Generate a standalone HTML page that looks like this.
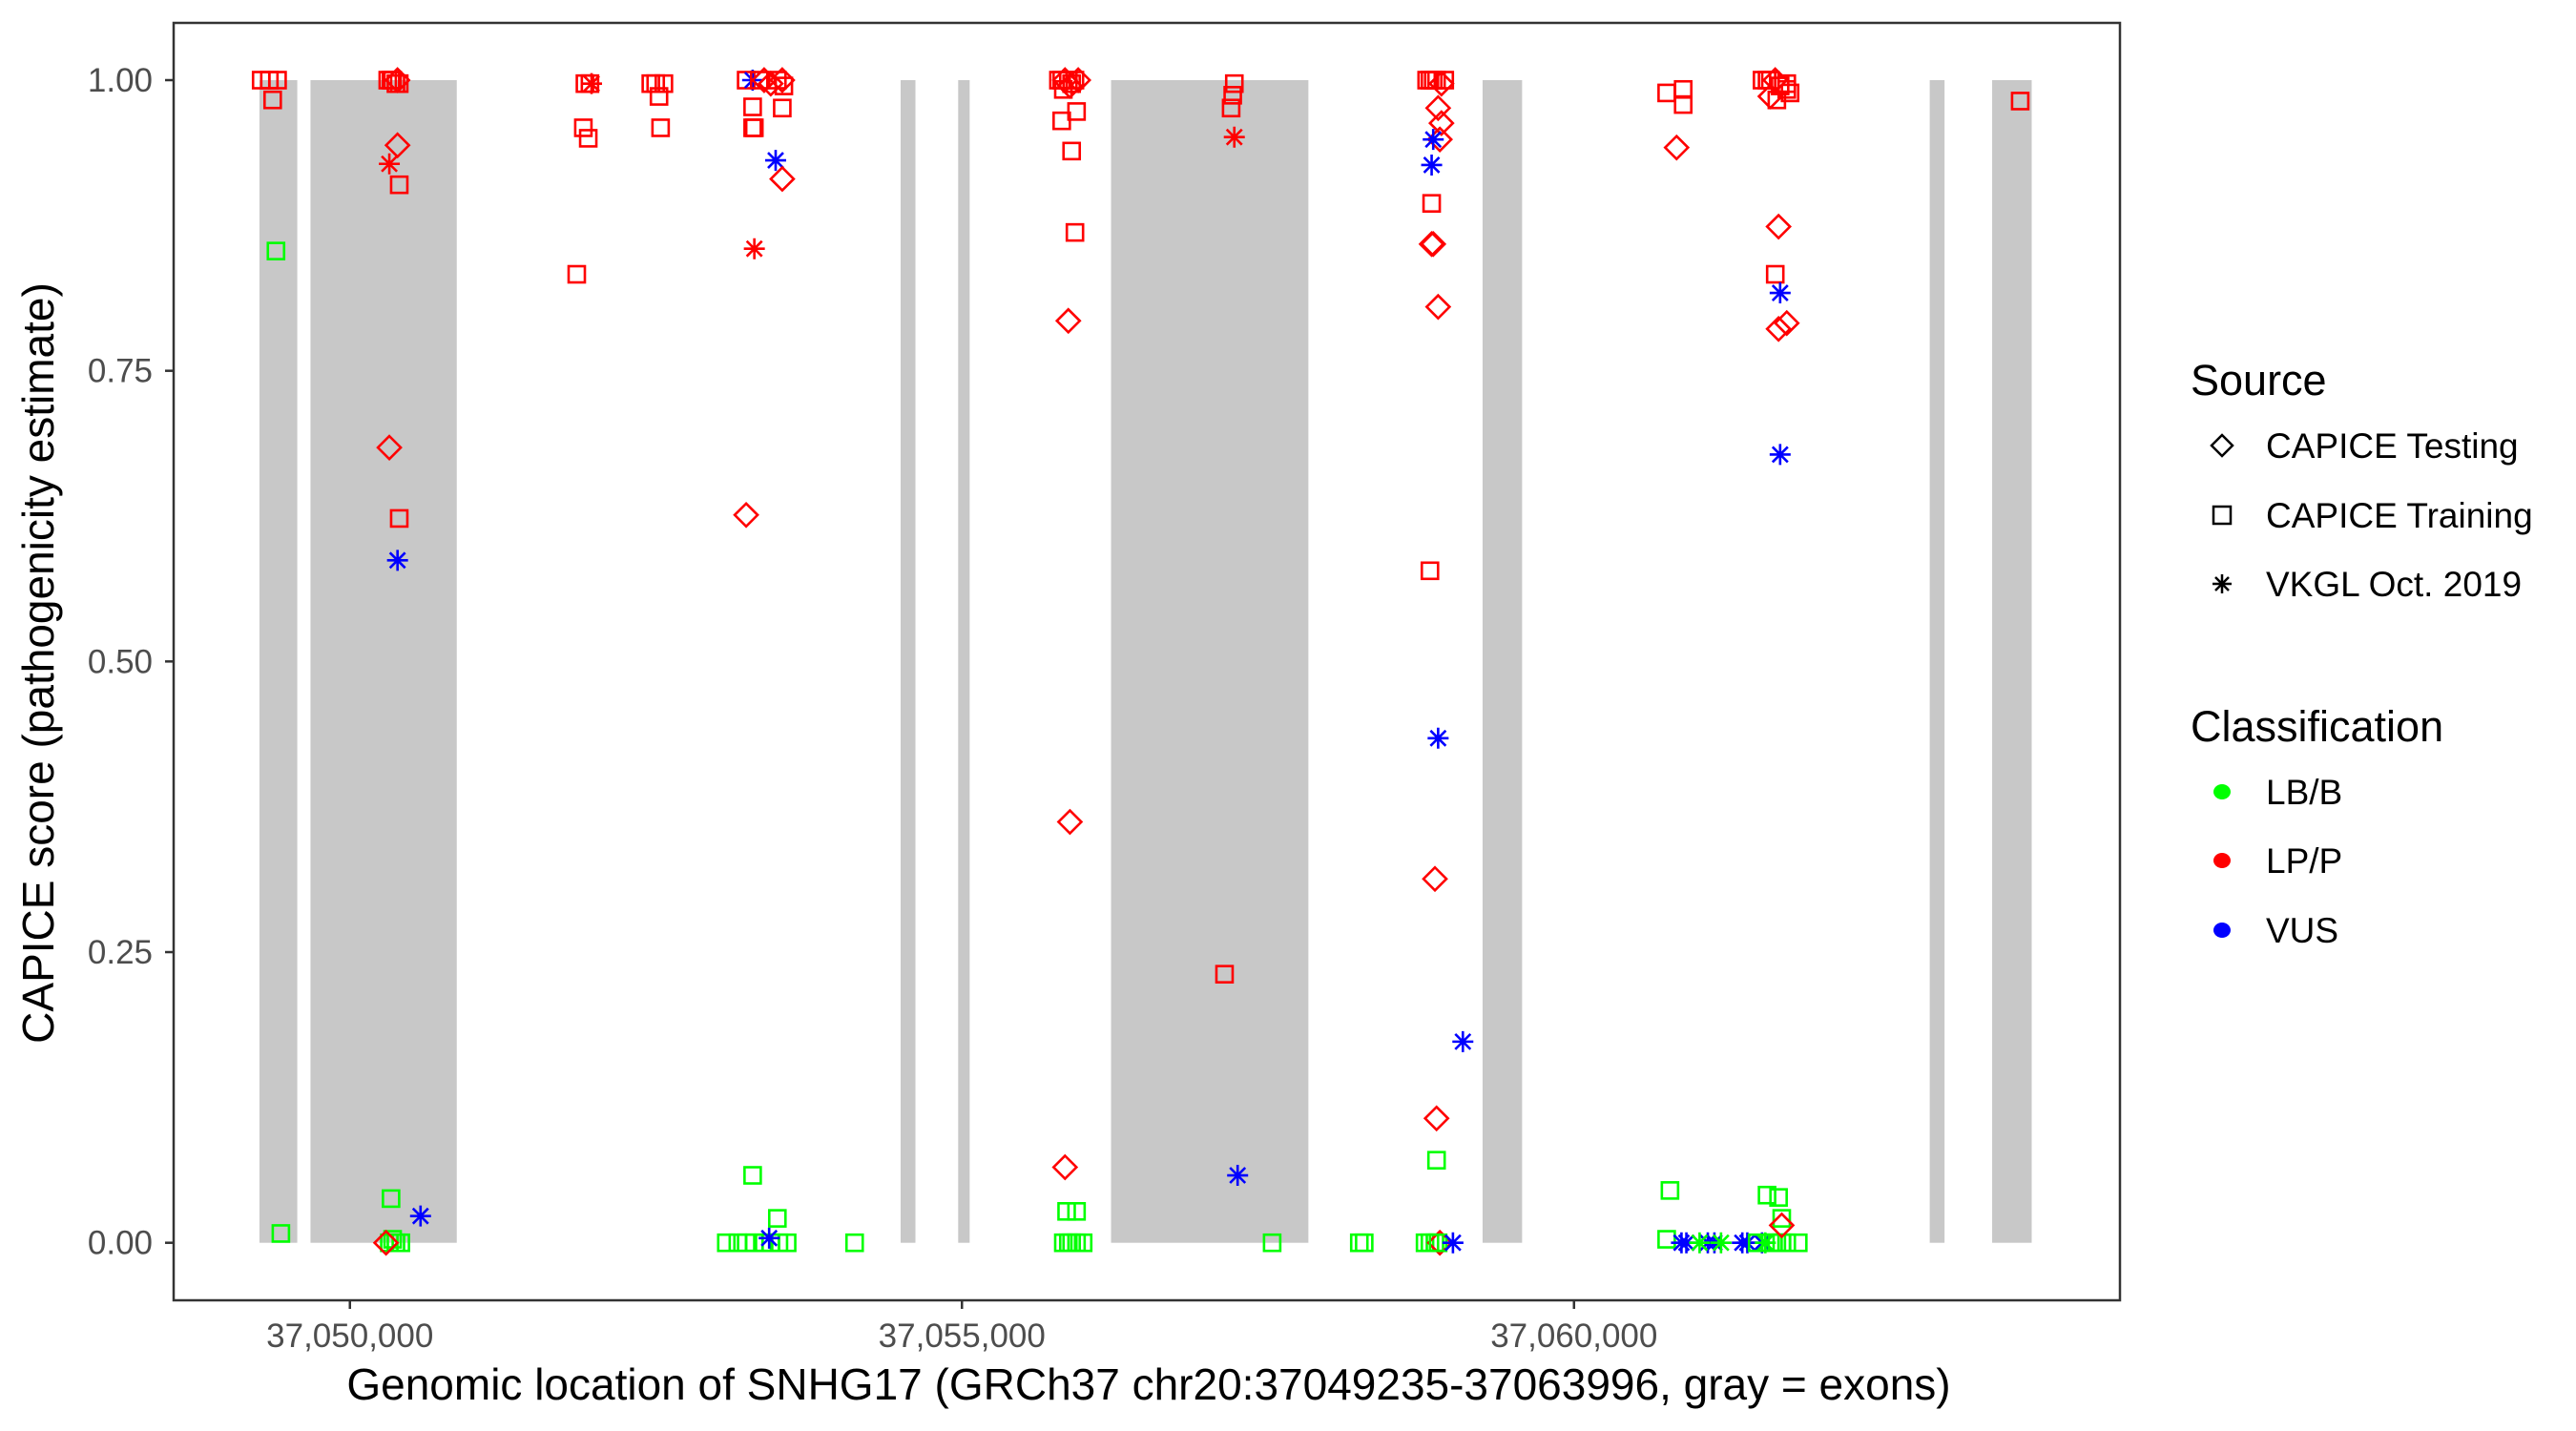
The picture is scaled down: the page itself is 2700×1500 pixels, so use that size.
<!DOCTYPE html>
<html><head><meta charset="utf-8"><style>
html,body{margin:0;padding:0;background:#fff;}
svg{display:block;font-family:"Liberation Sans",Arial,sans-serif;}
</style></head><body>
<svg id="chart" width="2700" height="1500" viewBox="0 0 2700 1500" xmlns="http://www.w3.org/2000/svg">
<rect x="0" y="0" width="2700" height="1500" fill="#fff"/>
<g id="exons"></g>
<g id="points"></g>
<rect x="182" y="24" width="2040" height="1339" fill="none" stroke="#333" stroke-width="2.5"/>
<g id="yaxis"></g>
<g id="xaxis"></g>
<text x="1204" y="1467" font-size="46" text-anchor="middle" fill="#000">Genomic location of SNHG17 (GRCh37 chr20:37049235-37063996, gray = exons)</text>
<text transform="translate(56,695) rotate(-90)" font-size="46" text-anchor="middle" fill="#000">CAPICE score (pathogenicity estimate)</text>
<g id="legend">
<text x="2296" y="414" font-size="45" fill="#000">Source</text>
<g>
<path d="M2329 456 L2340 467 L2329 478 L2318 467 Z" fill="none" stroke="#000" stroke-width="2.5"/>
<text x="2375" y="480" font-size="37" fill="#000">CAPICE Testing</text></g>
<g>
<rect x="2320" y="531" width="18" height="18" fill="none" stroke="#000" stroke-width="2.5"/>
<text x="2375" y="553" font-size="37" fill="#000">CAPICE Training</text></g>
<g>
<path d="M2319 612 L2339 612 M2329 602 L2329 622 M2322 605 L2336 619 M2336 605 L2322 619" stroke="#000" stroke-width="2.5"/>
<text x="2375" y="625" font-size="37" fill="#000">VKGL Oct. 2019</text></g>
<text x="2296" y="777" font-size="45" fill="#000">Classification</text>
<g><ellipse cx="2329" cy="830" rx="9" ry="8" fill="#00ff00"/><text x="2375" y="843" font-size="37" fill="#000">LB/B</text></g>
<g><ellipse cx="2329" cy="902" rx="9" ry="8" fill="#ff0000"/><text x="2375" y="915" font-size="37" fill="#000">LP/P</text></g>
<g><ellipse cx="2329" cy="975" rx="9" ry="8" fill="#0000ff"/><text x="2375" y="988" font-size="37" fill="#000">VUS</text></g>
</g>
</svg>
<script>
const exonStarts=[37049261,37049678,37054499,37054969,37056218,37059253,37062906,37063416];
const exonEnds=[37049570,37050873,37054620,37055063,37057830,37059576,37063027,37063739];
const xTicks=[37050000,37055000,37060000];
const xTickLabels=["37,050,000","37,055,000","37,060,000"];
const yTicks=[0,0.25,0.5,0.75,1];
const yTickLabels=["0.00","0.25","0.50","0.75","1.00"];
// T=CAPICE Testing, R=CAPICE Training, V=VKGL ; B=LB/B, P=LP/P, U=VUS
const positions=[
37049275,37049342,37049409,37049369,37049396,37049436,
37050309,37050336,37050349,37050376,37050403,37050389,37050389,37050322,37050403,37050322,37050403,37050389,37050577,37050336,37050322,37050349,37050376,37050416,37050295,
37051920,37051961,37051974,37051907,37051947,37051853,
37052458,37052498,37052565,37052525,37052538,
37053237,37053290,37053344,37053384,37053438,37053492,37053532,37053545,37053290,37053290,37053304,37053532,37053478,37053532,37053304,37053237,37053290,37053492,37053075,37053169,37053237,37053304,37053384,37053438,37053505,37053572,37053425,37054123,
37055788,37055815,37055842,37055869,37055896,37055923,37055950,37055828,37055882,37055815,37055936,37055896,37055923,37055869,37055882,37055842,37055855,37055936,37055828,37055869,37055896,37055936,37055990,
37057225,37057212,37057199,37057225,37057145,37057252,37057534,
37058796,37058823,37058850,37058877,37058917,37058944,37058890,37058917,37058904,37058837,37058837,37058850,37058890,37058837,37058850,37058823,37058890,37058864,37059092,37058877,37058877,37058246,37058286,37058783,37058823,37058864,37058904,37058890,37059011,
37060757,37060892,37060892,37060838,37060784,37060757,
37060878,37060918,37061093,37061147,37061375,37061416,37061536,37061026,37061201,37061563,37061496,37061604,37061630,37061657,37061697,37061738,37061832,37061577,37061671,37061697,37061697,
37061536,37061577,37061604,37061644,37061684,37061738,37061765,37061604,37061657,37061738,37061671,37061644,37061684,37061738,37061671,37061684,
37063645];
const scores=[
1,1,1,0.983,0.853,0.008,
1,1,1,0.997,0.997,1,0.944,0.928,0.910,0.684,0.623,0.587,0.023,0.038,0,0.003,0,0,0,
0.997,0.997,0.997,0.959,0.950,0.833,
0.997,0.997,0.997,0.986,0.959,
1,1,1,1,0.997,1,1,0.995,0.977,0.959,0.959,0.976,0.931,0.915,0.855,0.626,0.058,0.021,0,0,0,0,0,0,0,0,0.004,0,
1,1,1,1,0.997,1,1,0.992,0.995,0.965,0.973,0.939,0.869,0.793,0.362,0.065,0.027,0.027,0,0,0,0,0,
0.997,0.987,0.976,0.951,0.231,0.058,0,
1,1,1,1,0.997,1,0.976,0.963,0.949,0.894,0.859,0.859,0.805,0.927,0.949,0.578,0.434,0.313,0.173,0.107,0.071,0,0,0,0,0,0,0,0,
0.989,0.992,0.979,0.942,0.045,0.003,
0,0,0,0,0,0,0,0,0,0,0,0,0,0,0,0,0,0.041,0.039,0.021,0.015,
1,1,1,1,0.995,0.992,0.989,0.986,0.983,0.997,0.874,0.833,0.817,0.791,0.786,0.678,
0.982];
const sources=[
"R","R","R","R","R","R",
"R","R","R","R","R","T","T","V","R","T","R","V","V","R","R","R","R","R","T",
"R","R","V","R","R","R",
"R","R","R","R","R",
"R","V","R","T","T","R","T","R","R","R","R","R","V","T","V","T","R","R","R","R","R","R","R","R","R","R","V","R",
"R","R","T","R","R","R","T","R","T","R","R","R","R","T","T","T","R","R","R","R","R","R","R",
"R","R","R","V","R","V","R",
"R","R","R","R","T","R","T","T","T","R","T","T","T","V","V","R","V","T","V","T","R","R","R","R","R","R","T","R","V",
"R","R","R","T","R","R",
"V","V","V","V","V","V","V","V","V","V","R","R","R","R","R","R","R","R","R","R","T",
"R","R","R","T","R","R","R","T","R","R","T","R","V","T","T","V",
"R"];
const classes=[
"P","P","P","P","B","B",
"P","P","P","P","P","P","P","P","P","P","P","U","U","B","B","B","B","B","P",
"P","P","P","P","P","P",
"P","P","P","P","P",
"P","U","P","P","P","P","P","P","P","P","P","P","U","P","P","P","B","B","B","B","B","B","B","B","B","B","U","B",
"P","P","P","P","P","P","P","P","P","P","P","P","P","P","P","P","B","B","B","B","B","B","B",
"P","P","P","P","P","U","B",
"P","P","P","P","P","P","P","P","P","P","P","P","P","U","U","P","U","P","U","P","B","B","B","B","B","B","P","B","U",
"P","P","P","P","B","B",
"U","U","U","U","U","U","U","B","B","B","B","B","B","B","B","B","B","B","B","B","P",
"P","P","P","P","P","P","P","P","P","P","P","P","U","P","P","U",
"P"];

const NS="http://www.w3.org/2000/svg";
const PL=182,PR=2222,PT=24,PB=1363;
const XMIN=37048560,XMAX=37064460;
function xs(v){return PL+(v-XMIN)/(XMAX-XMIN)*(PR-PL);}
function ys(v){return 1302.7-v*(1302.7-84);}
function mk(tag,attrs,parent){const e=document.createElementNS(NS,tag);for(const k in attrs)e.setAttribute(k,attrs[k]);parent.appendChild(e);return e;}
const colorOf={B:"#00ff00",P:"#ff0000",U:"#0000ff"};

const gEx=document.getElementById("exons");
for(let i=0;i<exonStarts.length;i++){
  const r=mk("rect",{x:xs(exonStarts[i]),y:ys(1),width:xs(exonEnds[i])-xs(exonStarts[i]),height:ys(0)-ys(1),fill:"#c8c8c8"},gEx);
  
  
}
const gy=document.getElementById("yaxis");
yTicks.forEach((t,i)=>{
  const l=mk("line",{x1:PL-9,x2:PL,y1:ys(t),y2:ys(t),stroke:"#333","stroke-width":2.5},gy);
  
  
  const tx=mk("text",{x:PL-22,y:ys(t)+12,"font-size":35,"text-anchor":"end",fill:"#4d4d4d"},gy);
  tx.textContent=yTickLabels[i];
  
  
});
const gx=document.getElementById("xaxis");
xTicks.forEach((t,i)=>{
  const l=mk("line",{x1:xs(t),x2:xs(t),y1:PB,y2:PB+9,stroke:"#333","stroke-width":2.5},gx);
  
  
  const tx=mk("text",{x:xs(t),y:1412,"font-size":35,"text-anchor":"middle",fill:"#4d4d4d"},gx);
  tx.textContent=xTickLabels[i];
  
  
});
const gp=document.getElementById("points");
for(let i=0;i<positions.length;i++){
  const cx=xs(positions[i]),cy=ys(scores[i]),c=colorOf[classes[i]],s=sources[i];
  let el;
  if(s==="R"){
    el=mk("rect",{x:cx-8.5,y:cy-8.5,width:17,height:17,fill:"none",stroke:c,"stroke-width":2.6},gp);
  }else if(s==="T"){
    el=mk("path",{d:`M${cx} ${cy-12}L${cx+12} ${cy}L${cx} ${cy+12}L${cx-12} ${cy}Z`,fill:"none",stroke:c,"stroke-width":2.6},gp);
  }else{
    el=mk("path",{d:`M${cx-11} ${cy}L${cx+11} ${cy}M${cx} ${cy-11}L${cx} ${cy+11}M${cx-8} ${cy-8}L${cx+8} ${cy+8}M${cx+8} ${cy-8}L${cx-8} ${cy+8}`,stroke:c,"stroke-width":2.6},gp);
  }
  
  
}
</script>
</body></html>
